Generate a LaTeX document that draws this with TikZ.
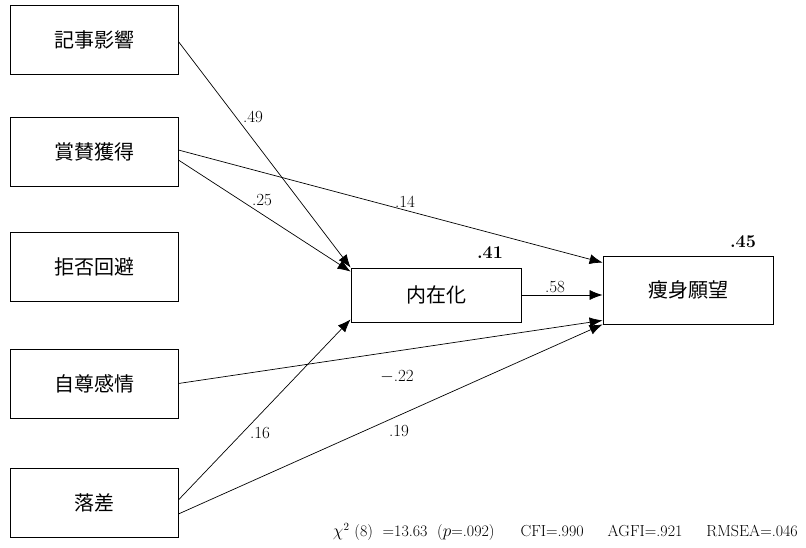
\documentclass[tikz,border=0pt]{standalone}
\usepackage{amsmath, amssymb}
\usepackage{fontspec}
\newfontfamily\jpfont{Noto Sans CJK JP}
\usepackage{tikz}
\usetikzlibrary{arrows.meta,positioning,calc}

\begin{document}
\begin{tikzpicture}[x=1pt,y=-1pt,
    varbox/.style={draw, line width=0.8pt, minimum width=168pt, minimum height=69pt, inner sep=0pt, font=\jpfont\fontsize{20}{20}\selectfont},
    midbox/.style={draw, line width=0.8pt, minimum width=170pt, font=\jpfont\fontsize{20}{20}\selectfont},
    path/.style={line width=0.7pt, -{Latex[length=13pt,width=10pt]}},
    coef/.style={font=\fontsize{17}{17}\selectfont, inner sep=1pt},
    rsq/.style={font=\bfseries\fontsize{18}{18}\selectfont, inner sep=1pt}]
    \useasboundingbox (0,0) rectangle (806,548);
    % predictors on the left
    \foreach \name/\txt/\y in {kiji/記事影響/39.5, shosan/賞賛獲得/152, kyohi/拒否回避/267, jison/自尊感情/383.5, rakusa/落差/503} {
      \node[varbox] (\name) at (94,\y) {\txt};
    }
    \node[midbox, minimum height=54pt] (naizai) at (436,295) {内在化};
    \node[midbox, minimum height=68pt] (soshin) at (688,290) {痩身願望};
    \node[rsq] at (490,253) {.41};
    \node[rsq] at (743,242) {.45};
    % paths
    \draw[path] ([yshift=-2pt]kiji.east) -- (naizai.north west);
    \draw[path] ([yshift=-8pt]shosan.east) -- ([yshift=-4pt]naizai.north west);
    \draw[path] ([yshift=2pt]shosan.east) -- ([yshift=-7pt]soshin.north west);
    \draw[path] (naizai.east) -- (naizai.east -| soshin.west);
    \draw[path] (jison.east) -- ([yshift=4pt]soshin.south west);
    \draw[path] ([yshift=3pt]rakusa.east) -- ([yshift=3pt]naizai.south west);
    \draw[path] ([yshift=-11pt]rakusa.east) -- (soshin.south west);
    % coefficients
    \node[coef] at (253,117) {.49};
    \node[coef] at (262,200) {.25};
    \node[coef] at (405,202) {.14};
    \node[coef] at (555,287) {.58};
    \node[coef] at (397,377) {$-$.22};
    \node[coef] at (260,433) {.16};
    \node[coef] at (399,431) {.19};
    % fit indices
    \node[anchor=east, font=\fontsize{16}{16}\selectfont, inner sep=0pt] (fit) at (798,532)
      {$\chi^2$\ (8)\ \ =13.63\ \ ($p$=.092)\hspace{26pt}CFI=.990\hspace{24pt}AGFI=.921\hspace{24pt}RMSEA=.046};
  \end{tikzpicture}
\end{document}
